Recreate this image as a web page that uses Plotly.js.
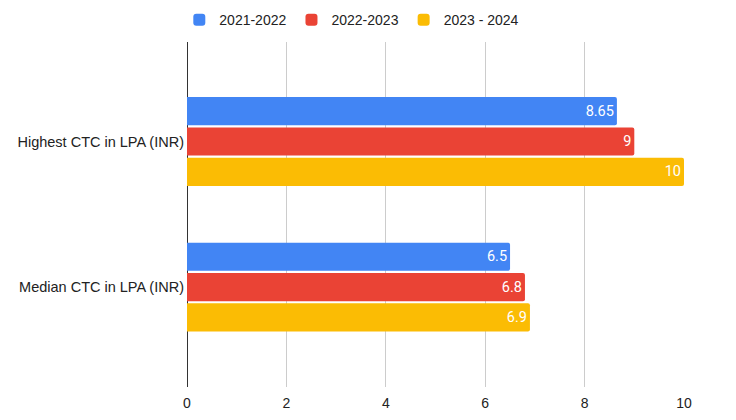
<!DOCTYPE html>
<html><head><meta charset="utf-8">
<script src="https://cdn.plot.ly/plotly-3.0.1.min.js"></script>
<style>html,body{margin:0;padding:0;background:#fff}#c{width:736px;height:420px}</style>
</head><body><div id="c"></div>
<script>
const categories = ["Highest CTC in LPA (INR)", "Median CTC in LPA (INR)"];
const seriesNames = ["2021-2022", "2022-2023", "2023 - 2024"];
const v2021 = [8.65, 6.5];
const v2022 = [9, 6.8];
const v2023 = [10, 6.9];
const colors = ["#4285F4", "#EA4335", "#FBBC04"];
const vals = [v2021, v2022, v2023];

const traces = vals.map((v, i) => ({
  type: 'bar', orientation: 'h',
  name: seriesNames[i], y: categories, x: v,
  marker: {color: colors[i]},
  text: v.map(String), textposition: 'inside', insidetextanchor: 'end',
  textfont: {color: '#fff', size: 14.5, family: 'Roboto, Arial, sans-serif'},
  hoverinfo: 'x+name'
}));

Plotly.newPlot('c', traces, {
  width: 736, height: 420,
  margin: {l: 187, r: 52, t: 42, b: 33},
  barmode: 'group', bargap: 0.375, bargroupgap: 0.07, barcornerradius: 2,
  font: {family: 'Arial, "Liberation Sans", sans-serif', size: 14, color: '#222'},
  xaxis: {range: [0, 10], dtick: 2, showgrid: true, gridcolor: '#ccc', zeroline: true,
          zerolinecolor: '#333', zerolinewidth: 1, ticks: '', showline: false,
          ticklabelstandoff: 6, tickfont: {size: 14, color: '#222'}},
  yaxis: {type: 'category', range: [1.687, -0.684], showgrid: false, zeroline: false,
          ticks: '', ticklabelstandoff: 2, tickfont: {size: 14.5, color: '#222'}},
  showlegend: true,
  legend: {orientation: 'h', xref: 'container', yref: 'container', x: 0.478, xanchor: 'center',
           y: 0.99, yanchor: 'top', font: {size: 14, color: '#222'}, itemwidth: 30},
  paper_bgcolor: '#fff', plot_bgcolor: '#fff'
}, {displayModeBar: false});
</script></body></html>
